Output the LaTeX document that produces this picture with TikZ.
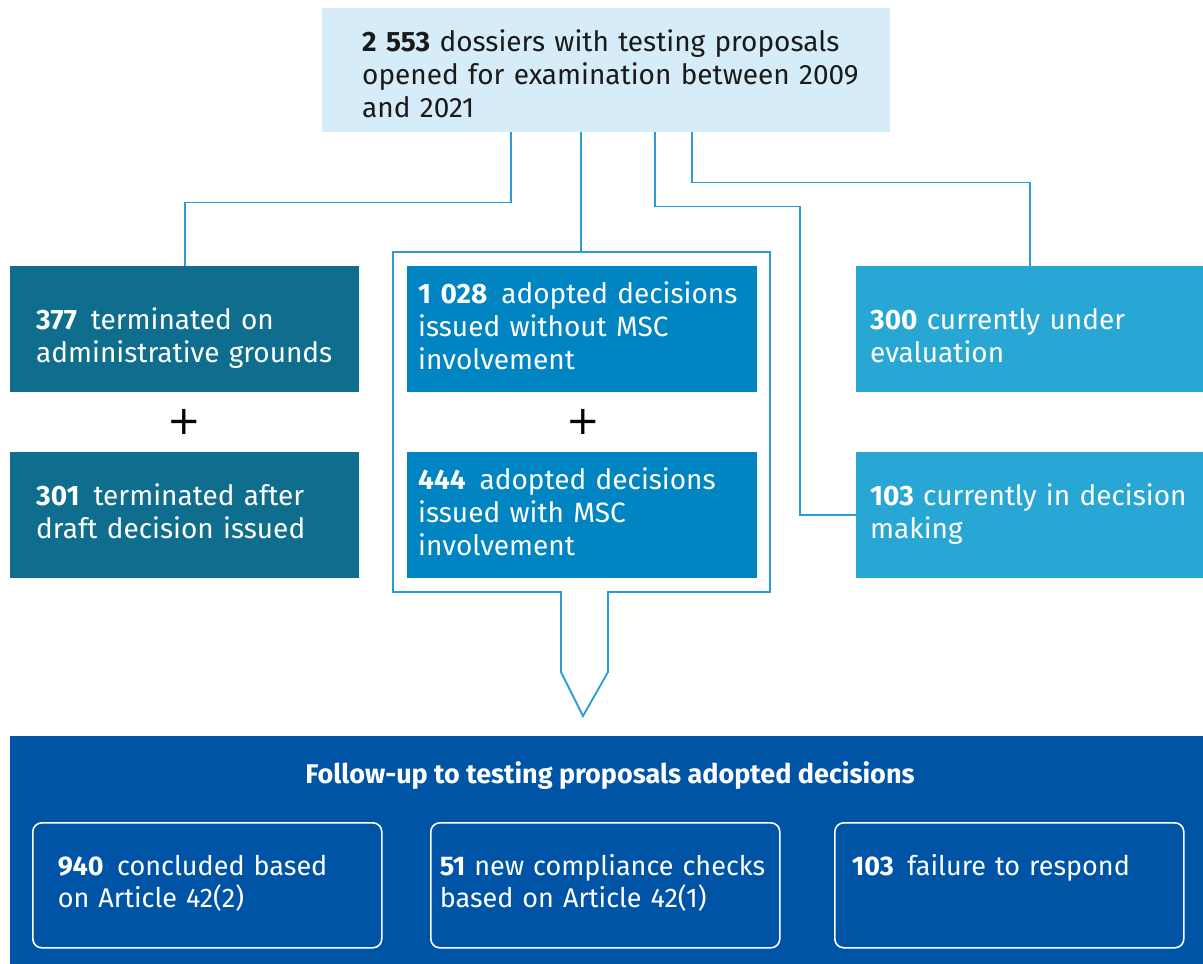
\documentclass[tikz,border=0pt]{standalone}
\usepackage{fontspec}
\setmainfont{Fira Sans}
\newfontfamily\plusfont{DejaVu Sans}
\usetikzlibrary{calc}
\definecolor{topfill}{HTML}{D7ECF9}
\definecolor{leftfill}{HTML}{0F6E8D}
\definecolor{midfill}{HTML}{0085C2}
\definecolor{rightfill}{HTML}{29A7D4}
\definecolor{botfill}{HTML}{0054A5}
\definecolor{linecol}{HTML}{2A9BD4}
\definecolor{txtdark}{HTML}{1A1A1A}
\newcommand\firststrut[1]{\rule{0pt}{#1pt}}
\newcommand\laststrut[1]{\rule[-#1pt]{0pt}{#1pt}}
\newcommand\indentline{\hspace*{20pt}}
\hbadness=10000 \hfuzz=50pt
\tikzset{
  every node/.style={font=\fontsize{28}{33}\selectfont},
  boxbase/.style={anchor=north west, minimum height=126pt, inner ysep=0pt, align=left, text=white},
  leftbox/.style={boxbase, fill=leftfill, minimum width=349pt, text width=297pt, inner xsep=26pt},
  midbox/.style={boxbase, fill=midfill, minimum width=350pt, text width=328pt, inner xsep=11pt},
  rightbox/.style={boxbase, fill=rightfill, minimum width=347pt, text width=319pt, inner xsep=14pt},
  conn/.style={draw=linecol, line width=1.8pt},
  plussign/.style={font=\plusfont\fontsize{40}{40}\selectfont, text=black, inner sep=0pt},
  innerbox/.style={anchor=north west, draw=white, line width=1.6pt, rounded corners=9pt,
    minimum width=349pt, minimum height=125pt, inner ysep=0pt, align=left, text=white,
    font=\fontsize{27}{32}\selectfont},
}
\begin{document}
\begin{tikzpicture}[x=1pt, y=-1pt]
\useasboundingbox (0,0) rectangle (1203,964);
% top box
\node[anchor=north west, fill=topfill, minimum width=568pt, minimum height=124pt, text width=528pt,
      inner xsep=20pt, inner ysep=0pt, align=left, text=txtdark] (top) at (322,8)
  {\indentline\firststrut{36}\textbf{2~553} dossiers with testing proposals\\
   \indentline opened for examination between 2009\\ \indentline and 2021\laststrut{8}};
% left column
\node[leftbox] (lb1) at (10,266) {\firststrut{41}\textbf{377}\, terminated on\\ administrative grounds\laststrut{8}};
\node[plussign] (lplus) at (184,422) {+};
\node[leftbox] (lb2) at (10,452) {\firststrut{15}\textbf{301}\, terminated after\\ draft decision issued\laststrut{8}};
% middle frame
\draw[conn] (393,252) -- (770,252) -- (770,592) -- (608,592) -- (608,672) -- (583,716)
  -- (561,672) -- (561,592) -- (393,592) -- cycle;
\coordinate (frametop) at (581,252);
\coordinate (arrowtip) at (583,716);
\node[midbox] (mb1) at (407,266) {\firststrut{22}\textbf{1~028}\, adopted decisions\\ issued without MSC\\ involvement\laststrut{8}};
\node[plussign] (mplus) at (583,422) {+};
\node[midbox] (mb2) at (407,452) {\firststrut{22}\textbf{444}\, adopted decisions\\ issued with MSC\\ involvement\laststrut{8}};
% right column
\node[rightbox] (rb1) at (856,266) {\firststrut{41}\textbf{300} currently under\\ evaluation\laststrut{8}};
\node[rightbox] (rb2) at (856,452) {\firststrut{15}\textbf{103} currently in decision\\ making\laststrut{8}};
% connectors
\draw[conn] ([xshift=189pt]top.south west) -- ++(0,70) -| (lb1.north);
\draw[conn] ([xshift=259pt]top.south west) -- (frametop);
\draw[conn] ([xshift=333pt]top.south west) -- ++(0,74) -- ++(145,0) |- (rb2.west);
\draw[conn] ([xshift=370pt]top.south west) -- ++(0,50) -| (rb1.north);
% bottom panel
\node[anchor=north west, fill=botfill, minimum width=1193pt, minimum height=228pt, inner sep=0pt] (bot) at (10,736) {};
\node[text=white, font=\fontsize{27}{30}\selectfont\bfseries, anchor=base] (bottitle) at (610,783)
  {Follow-up to testing proposals adopted decisions};
\node[innerbox, text width=299pt, inner xsep=25pt] (ib1) at (32,822)
  {\firststrut{16}\textbf{940}\, concluded based\\ on Article 42(2)\laststrut{8}};
\node[innerbox, text width=331pt, inner xsep=9pt] (ib2) at (430,822)
  {\firststrut{16}\textbf{51} new compliance checks\\ based on Article 42(1)\laststrut{8}};
\node[innerbox, text width=315pt, inner xsep=17pt] (ib3) at (834,822)
  {\firststrut{16}\textbf{103}\, failure to respond\laststrut{40}};
\end{tikzpicture}
\end{document}
